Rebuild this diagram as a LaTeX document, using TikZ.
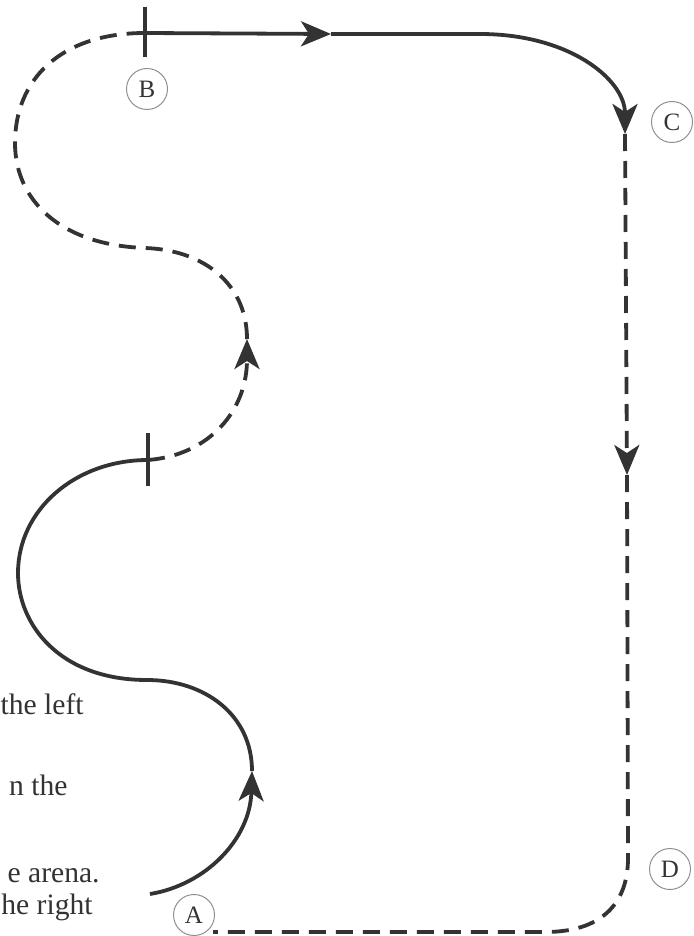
\documentclass[tikz,border=0pt]{standalone}
\usepackage{fontspec}
\setmainfont{Liberation Serif}
\usetikzlibrary{arrows.meta}
\definecolor{ink}{HTML}{333333}
\begin{document}
\begin{tikzpicture}[x=0.5pt,y=-0.5pt,
  route/.style={draw=ink, line width=1.9pt},
  dashedroute/.style={route, dash pattern=on 8.5pt off 5pt},
  tip/.style={-{Stealth[length=15pt,width=12.5pt,inset=4pt]}},
  ticker/.style={draw=ink, line width=1.8pt},
  letter/.style={circle, draw=ink!55, line width=0.5pt, minimum size=20.5pt, inner sep=0pt, text=ink, font=\fontsize{12.5}{12.5}\selectfont},
  prose/.style={anchor=base east, text=ink, inner sep=0pt, font=\fontsize{14.8}{17}\selectfont}]
\useasboundingbox (0,0) rectangle (693,936);
% path points
\coordinate (s0) at (150,894);
\coordinate (a1) at (252,771);
\coordinate (j1) at (147,680);
\coordinate (w1) at (18,573);
\coordinate (t1) at (148,460);
\coordinate (a2) at (247,339);
\coordinate (j2) at (145,248);
\coordinate (w2) at (15,143);
\coordinate (t2) at (145,33);
\coordinate (a3) at (331,34);
\coordinate (h1) at (480,34);
\coordinate (a4) at (625,134);
\coordinate (a5) at (627,475);
\coordinate (v1) at (628,858);
\coordinate (h2) at (545,932);
\coordinate (e1) at (213,932);
% solid part from A
\draw[route,tip] (s0) .. controls (205,885) and (250,840) .. (a1);
\draw[route] (a1) .. controls (252,715) and (205,680) .. (j1);
\draw[route] (j1) .. controls (60,680) and (18,625) .. (w1)
  .. controls (18,510) and (75,460) .. (t1);
% dashed part
\draw[dashedroute,tip] (t1) .. controls (210,455) and (247,410) .. (a2);
\draw[dashedroute] (a2) .. controls (247,285) and (205,250) .. (j2)
  .. controls (60,245) and (15,200) .. (w2)
  .. controls (15,80) and (60,33) .. (t2);
% top solid part
\draw[route,tip] (t2) -- (a3);
\draw[route,tip] (a3) -- (h1) .. controls (570,34) and (625,80) .. (a4);
% right and bottom dashed part
\draw[dashedroute,tip] (a4) -- (a5);
\draw[dashedroute] (a5) -- (v1) .. controls (628,905) and (600,932) .. (h2) -- (e1);
% ticks
\draw[ticker] (t1) ++(0,-27) -- ++(0,53);
\draw[ticker] (t2) ++(0,-26) -- ++(0,50);
% labels
\node[letter] (A) at (194,915) {A};
\node[letter] (B) at (147,89) {B};
\node[letter] (C) at (672,122) {C};
\node[letter] (D) at (670,869) {D};
% cut-off prose
\node[prose] (p1) at (84,714) {the left};
\node[prose] (p2) at (68,795) {n the};
\node[prose] (p3) at (100,882) {e arena.};
\node[prose] (p4) at (93,914) {he right};
\end{tikzpicture}
\end{document}
